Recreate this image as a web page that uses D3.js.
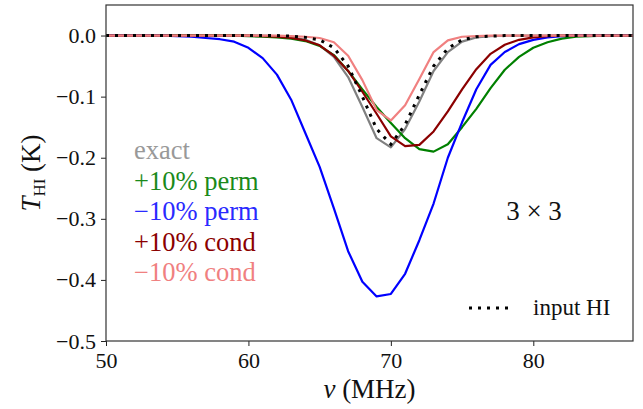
<!DOCTYPE html>
<html><head><meta charset="utf-8">
<script src="https://cdn.jsdelivr.net/npm/d3@7"></script>
<style>
body{margin:0;background:#fff;}
svg{display:block;}
</style></head>
<body><svg id="c" width="643" height="409"></svg>
<script>
const FONT = "'Liberation Serif', 'DejaVu Serif', 'Times New Roman', serif";
// frequency grid (MHz)
const nu = d3.range(50, 88, 1);
// T_HI (K) per series, index 0 -> 50 MHz
const exact = [0,0,0,0,0,0,0,0,0,0, 0,0,-0.001,-0.003,-0.007,-0.016,-0.035,-0.068,-0.117,-0.168,
  -0.183,-0.153,-0.108,-0.058,-0.027,-0.010,-0.003,-0.001,0,0, 0,0,0,0,0,0,0,0];
const plusPerm = [0,0,0,0,0,0,0,0,0,0, -0.001,-0.002,-0.003,-0.005,-0.009,-0.017,-0.032,-0.058,-0.088,-0.117,
  -0.143,-0.168,-0.186,-0.190,-0.178,-0.150,-0.120,-0.086,-0.056,-0.035, -0.020,-0.011,-0.005,-0.002,-0.001,0,0,0];
const minusPerm = [0,0,0,0,0,-0.001,-0.002,-0.004,-0.006,-0.010, -0.020,-0.037,-0.064,-0.105,-0.160,-0.215,-0.283,-0.353,-0.403,-0.427,
  -0.423,-0.390,-0.335,-0.275,-0.200,-0.142,-0.088,-0.048,-0.027,-0.014, -0.007,-0.003,-0.001,0,0,0,0,0];
const plusCond = [0,0,0,0,0,0,0,0,0,0, 0,-0.001,-0.002,-0.004,-0.008,-0.016,-0.033,-0.058,-0.092,-0.128,
  -0.165,-0.181,-0.179,-0.157,-0.124,-0.088,-0.055,-0.030,-0.015,-0.007, -0.003,-0.001,0,0,0,0,0,0];
const minusCond = [0,0,0,0,0,0,0,0,0,0, 0,0,0,-0.001,-0.002,-0.004,-0.011,-0.033,-0.073,-0.122,
  -0.139,-0.114,-0.071,-0.027,-0.008,-0.002,-0.001,0,0,0, 0,0,0,0,0,0,0,0];
const inputHI = [0,0,0,0,0,0,0,0,0,0, 0,0,0,-0.001,-0.003,-0.007,-0.020,-0.050,-0.100,-0.153,
  -0.178,-0.146,-0.097,-0.050,-0.021,-0.007,-0.002,-0.001,0,0, 0,0,0,0,0,0,0,0];

const seriesNames = ["exact","+10% perm","\u221210% perm","+10% cond","\u221210% cond"];
const seriesColors = ["#808080","#008000","#0000ff","#8b0000","#f08080"];
const textColors = ["#999999","#1a8a1a","#2a2aff","#8b0000","#f08080"];
const seriesData = [exact, plusPerm, minusPerm, plusCond, minusCond];
const xTicks = [50,60,70,80];
const yTicks = [0.0,-0.1,-0.2,-0.3,-0.4,-0.5];

const W=643,H=409, m={l:106,t:5,r:10,b:68};
const svg=d3.select("#c");
const x=d3.scaleLinear().domain([50,87]).range([m.l,W-m.r]);
const y=d3.scaleLinear().domain([-0.5,0.05]).range([H-m.b,m.t]);

const line=d3.line().x((d,i)=>x(nu[i])).y(d=>y(d));
const g=svg.append("g");
seriesData.forEach((s,k)=>{
  g.append("path").datum(s).attr("d",line).attr("fill","none")
   .attr("stroke",seriesColors[k]).attr("stroke-width",2.2).attr("stroke-linejoin","round");
});
g.append("path").datum(inputHI).attr("d",line).attr("fill","none")
 .attr("stroke","#000").attr("stroke-width",3).attr("stroke-dasharray","3,6");

// axes
const xa=svg.append("g").attr("transform",`translate(0,${H-m.b})`)
  .call(d3.axisBottom(x).tickValues(xTicks).tickSize(5).tickPadding(6).tickFormat(d3.format("d")));
const ya=svg.append("g").attr("transform",`translate(${m.l},0)`)
  .call(d3.axisLeft(y).tickValues(yTicks).tickSize(5).tickPadding(5).tickFormat(d=>d3.format(".1f")(d).replace("-","\u2212")));
[xa,ya].forEach(a=>{a.attr("font-family",FONT);a.select(".domain").remove();a.selectAll("text").attr("font-size",22).attr("fill","#111");a.selectAll("line").attr("stroke","#222");});
svg.append("rect").attr("x",m.l).attr("y",m.t).attr("width",W-m.r-m.l).attr("height",H-m.b-m.t)
  .attr("fill","none").attr("stroke","#333").attr("stroke-width",1.2);

// legend text
seriesNames.forEach((n,k)=>{
  svg.append("text").attr("font-family",FONT).attr("x",134).attr("y",159+k*30.5).attr("font-size",26.5)
   .attr("fill",textColors[k]).text(n);
});
svg.append("text").attr("font-family",FONT).attr("x",534).attr("y",220).attr("font-size",27).attr("text-anchor","middle").attr("fill","#111").text("3 \u00d7 3");
svg.append("line").attr("x1",469).attr("x2",514).attr("y1",308).attr("y2",308)
  .attr("stroke","#000").attr("stroke-width",3).attr("stroke-dasharray","3,6");
svg.append("text").attr("font-family",FONT).attr("x",533).attr("y",315).attr("font-size",23).attr("fill","#111").text("input HI");

// axis labels
svg.append("text").attr("font-family",FONT).attr("x",(m.l+W-m.r)/2).attr("y",398).attr("text-anchor","middle").attr("font-size",27).attr("fill","#111")
  .html('<tspan font-style="italic">\u03bd</tspan> (MHz)');
const yl=svg.append("text").attr("font-family",FONT).attr("transform",`translate(40,${(m.t+H-m.b)/2}) rotate(-90)`).attr("text-anchor","middle").attr("font-size",27).attr("fill","#111");
yl.append("tspan").attr("font-style","italic").text("T");
yl.append("tspan").attr("font-size",17).attr("dy",5).text("HI");
yl.append("tspan").attr("dy",-5).text(" (K)");
</script></body></html>
